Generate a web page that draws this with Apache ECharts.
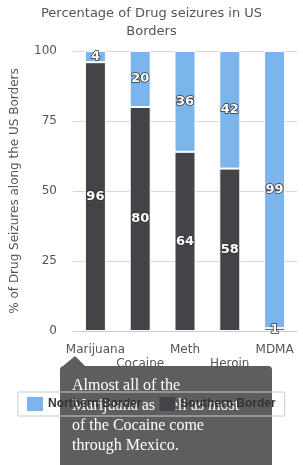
<!DOCTYPE html>
<html>
<head>
<meta charset="utf-8">
<script src="https://cdn.jsdelivr.net/npm/echarts@6/dist/echarts.min.js"></script>
<style>
html,body{margin:0;padding:0;background:#fff;}
#main{width:303px;height:465px;}
</style>
</head>
<body>
<div id="main"></div>
<script>
var drugs = ['Marijuana', 'Cocaine', 'Meth', 'Heroin', 'MDMA'];
var northern = [4, 20, 36, 42, 99];
var southern = [96, 80, 64, 58, 1];
var yTicks = [0, 25, 50, 75, 100];
var note = ['Almost all of the', 'Marijuana as well as most', 'of the Cocaine come', 'through Mexico.'];

var myChart = echarts.init(document.getElementById('main'));

function barLabel(){
    return {
        show: true,
        position: 'inside',
        color: '#fff',
        fontSize: 13,
        fontWeight: 'bold',
        fontFamily: 'DejaVu Sans',
        textBorderColor: '#333',
        textBorderWidth: 1.5
    };
}

var option = {
    animation: false,
    title: {
        text: 'Percentage of Drug seizures in US\nBorders',
        left: 'center',
        top: 0,
        textStyle: {
            color: '#555',
            fontSize: 13,
            fontWeight: 'normal',
            fontFamily: 'DejaVu Sans',
            lineHeight: 18
        }
    },
    legend: {
        data: ['Northern Border', 'Southern Border'],
        orient: 'horizontal',
        left: 18,
        top: 392,
        width: 280,
        padding: [5, 9],
        borderColor: '#ccc',
        borderWidth: 1,
        itemWidth: 16,
        itemHeight: 14,
        itemGap: 18,
        icon: 'rect',
        itemStyle: {borderWidth: 0},
        textStyle: {color: '#333', fontSize: 12, fontWeight: 'bold', fontFamily: 'Liberation Sans'}
    },
    grid: {left: 73, right: 6, top: 51, bottom: 134},
    xAxis: {
        type: 'category',
        data: drugs,
        axisLine: {lineStyle: {color: '#C0D0E0'}},
        axisTick: {length: 7, lineStyle: {color: '#C0D0E0'}},
        axisLabel: {
            color: '#555',
            fontSize: 12,
            fontFamily: 'DejaVu Sans',
            margin: 12,
            interval: 0,
            lineHeight: 14,
            formatter: function(v, i){
                return i % 2 === 1 ? '\n' + v : v;
            }
        }
    },
    yAxis: {
        type: 'value',
        min: yTicks[0],
        max: yTicks[yTicks.length - 1],
        interval: 25,
        name: '% of Drug Seizures along the US Borders',
        nameLocation: 'middle',
        nameGap: 52,
        nameTextStyle: {color: '#555', fontSize: 12, fontFamily: 'DejaVu Sans'},
        axisLabel: {color: '#555', fontSize: 12, fontFamily: 'DejaVu Sans', margin: 16},
        splitLine: {lineStyle: {color: '#d8d8d8'}}
    },
    series: [{
        name: 'Southern Border',
        type: 'bar',
        stack: 'all',
        barWidth: 21,
        data: southern,
        itemStyle: {color: '#434348', borderColor: '#fff', borderWidth: 1},
        label: barLabel()
    }, {
        name: 'Northern Border',
        type: 'bar',
        stack: 'all',
        barWidth: 21,
        data: northern,
        itemStyle: {color: '#7cb5ec', borderColor: '#fff', borderWidth: 1},
        label: barLabel()
    }],
    // annotation box, almost opaque like the original tooltip
    graphic: [{
        type: 'group',
        left: 60,
        top: 356,
        z: 100,
        children: [{
            type: 'polygon',
            shape: {points: [[3, 10], [15, 0], [25, 10]]},
            style: {fill: 'rgba(80,80,80,0.92)'}
        }, {
            type: 'rect',
            shape: {x: 0, y: 10, width: 212, height: 110, r: 4},
            style: {fill: 'rgba(80,80,80,0.92)'}
        }, {
            type: 'text',
            x: 12,
            y: 20,
            style: {
                text: note.join('\n'),
                fill: '#fff',
                fontSize: 16,
                lineHeight: 20,
                fontFamily: 'Liberation Serif'
            }
        }]
    }]
};

myChart.setOption(option);
</script>
</body>
</html>
